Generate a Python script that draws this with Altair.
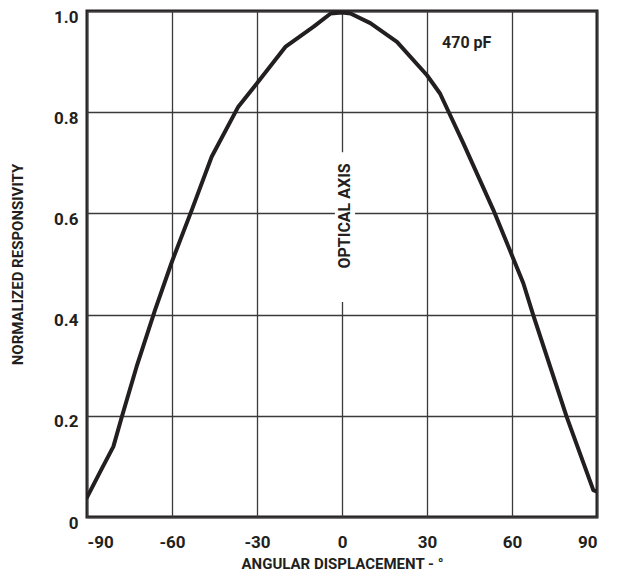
import altair as alt
import pandas as pd

FONT = "Roboto"

# curve
angle_deg = [-90, -85, -80.7, -77.7, -72.5, -66, -60, -53, -46, -36.6, -30, -20, -10, -4, 0, 3,
             10, 19.4, 30, 34.6, 42.8, 53.4, 60, 64, 67.5, 79.3, 88.7, 90]
responsivity = [0.039, 0.093, 0.139, 0.198, 0.297, 0.409, 0.505, 0.607, 0.712, 0.811, 0.857, 0.929,
                0.969, 0.995, 0.997, 0.995, 0.976, 0.939, 0.873, 0.837, 0.739, 0.607, 0.517, 0.462,
                0.399, 0.198, 0.053, 0.05]

x_ticks = [-90, -60, -30, 0, 30, 60, 90]
y_ticks = [0, 0.2, 0.4, 0.6, 0.8, 1.0]

# annotations
label_text = ["470 pF"]
label_x = [44]
label_y = [0.937]
axis_text = ["OPTICAL AXIS"]
axis_x = [1]
axis_y = [0.595]
gap_x = [-2.5]
gap_x2 = [4.6]
gap_y = [0.425]
gap_y2 = [0.721]

curve = pd.DataFrame({"angle": angle_deg, "resp": responsivity})

xscale = alt.Scale(domain=[-90, 90], nice=False, zero=False)
yscale = alt.Scale(domain=[0, 1], nice=False)

INK = "#231f20"

xaxis = alt.Axis(values=x_ticks, title="ANGULAR DISPLACEMENT - °", tickSize=0, domain=False,
                 labelPadding=17, labelFontSize=17, labelFont=FONT, labelFontWeight="bold",
                 labelExpr="datum.value < 0 ? '-' + abs(datum.value) : '' + datum.value",
                 labelColor=INK, grid=True, gridColor="#3a3a3a", gridWidth=1.3,
                 titleFont=FONT, titleFontSize=15, titleFontWeight="bold", titleColor=INK,
                 titleX=255, titleY=46, titleBaseline="middle", titleAlign="center")
yaxis = alt.Axis(values=y_ticks, title="NORMALIZED RESPONSIVITY", tickSize=0, domain=False,
                 labelPadding=9, labelFontSize=17, labelFont=FONT, labelFontWeight="bold",
                 labelColor=INK, labelBaseline="middle", labelOffset=6,
                 labelExpr="datum.value == 0 ? '0' : format(datum.value, '.1f')",
                 grid=True, gridColor="#3a3a3a", gridWidth=1.3,
                 titleFont=FONT, titleFontSize=15, titleFontWeight="bold", titleColor=INK,
                 titleX=-70, titleY=253, titleBaseline="middle", titleAlign="center", titleAngle=-90)

line = alt.Chart(curve).mark_line(color=INK, strokeWidth=4, strokeJoin="round",
                                  strokeCap="round", clip=True).encode(
    x=alt.X("angle:Q", scale=xscale, axis=xaxis),
    y=alt.Y("resp:Q", scale=yscale, axis=yaxis),
)

gap = alt.Chart(pd.DataFrame({"x": gap_x, "x2": gap_x2, "y": gap_y, "y2": gap_y2})).mark_rect(
    color="white").encode(
    x=alt.X("x:Q", scale=xscale), x2="x2:Q",
    y=alt.Y("y:Q", scale=yscale), y2="y2:Q",
)

t1 = alt.Chart(pd.DataFrame({"t": label_text, "x": label_x, "y": label_y})).mark_text(
    font=FONT, fontSize=16, fontWeight="bold", color=INK).encode(
    x=alt.X("x:Q", scale=xscale), y=alt.Y("y:Q", scale=yscale), text="t:N")

t2 = alt.Chart(pd.DataFrame({"t": axis_text, "x": axis_x, "y": axis_y})).mark_text(
    font=FONT, fontSize=16, fontWeight="bold", color=INK, angle=270).encode(
    x=alt.X("x:Q", scale=xscale), y=alt.Y("y:Q", scale=yscale), text="t:N")

chart = alt.layer(gap, line, t1, t2).properties(
    width=510, height=506,
    autosize=alt.AutoSizeParams(type="none"),
    padding={"left": 79, "top": 3, "right": 13, "bottom": 57},
    background="white",
).configure_view(stroke=INK, strokeWidth=3)

chart.save("out.html", embed_options={"renderer": "svg", "actions": False})
